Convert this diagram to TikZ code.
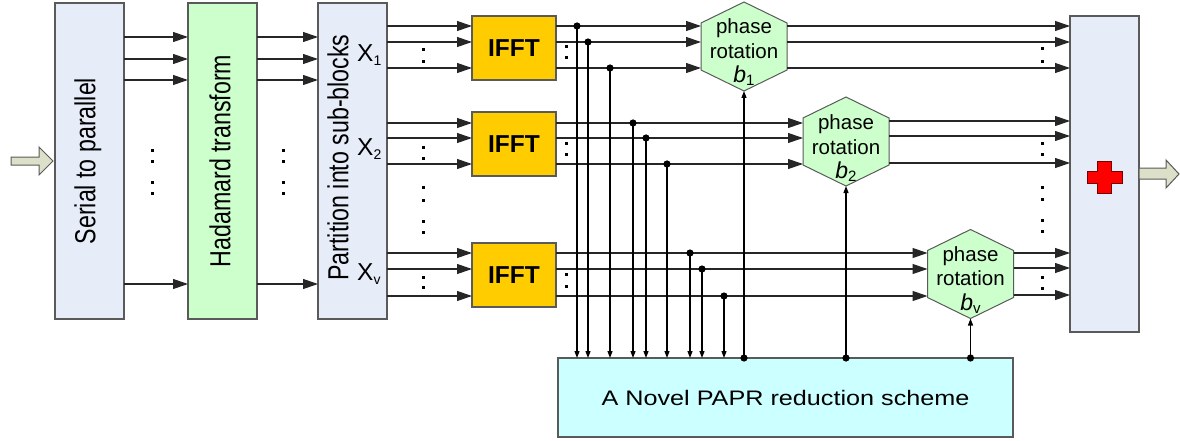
\documentclass[tikz,border=0pt]{standalone}
\usepackage{fontspec}
\usepackage{graphicx}
\setmainfont{Liberation Sans}
\usetikzlibrary{arrows.meta,calc}
\definecolor{boxblue}{RGB}{230,236,248}
\definecolor{lgreen}{RGB}{204,255,204}
\definecolor{ifftc}{RGB}{255,204,0}
\definecolor{paprc}{RGB}{204,255,255}
\definecolor{fatc}{RGB}{221,224,200}
\definecolor{edgec}{RGB}{90,90,90}
\definecolor{crossedge}{RGB}{120,0,0}
\newcommand\hexshape[1]{\draw[hexline] (#1.north west) -- ([yshift=21pt]#1.north) -- (#1.north east) -- (#1.south east) -- ([yshift=-21pt]#1.south) -- (#1.south west) -- cycle;}
\newcommand\dotsq[2]{\fill (#1,#2) +(-1.5pt,-1.5pt) rectangle +(1.5pt,1.5pt);}
\begin{document}
\begin{tikzpicture}[x=1pt,y=-1pt,
  blk/.style={draw=edgec, line width=1.2pt, inner sep=0pt, outer sep=0pt},
  tall/.style={blk, fill=boxblue, minimum width=69pt, minimum height=316pt},
  ifftbox/.style={blk, fill=ifftc, minimum width=84pt, minimum height=64pt, font=\fontsize{24.5}{28}\selectfont\bfseries},
  hexbox/.style={inner sep=0pt, outer sep=0pt, minimum width=86pt, minimum height=47pt},
  hexline/.style={draw=edgec, fill=lgreen, line width=1pt},
  hextext/.style={align=center, inner sep=0pt, font=\fontsize{20.5}{24.5}\selectfont},
  rottext/.style={rotate=90, inner sep=0pt, font=\fontsize{23.2}{26}\selectfont},
  sig/.style={line width=1.2pt, draw=black!85, -{Triangle[length=15pt,width=10pt]}},
  wire/.style={line width=1.2pt, draw=black!85},
  tap/.style={line width=1.2pt, -{Triangle[length=7pt,width=5pt]}},
  fat/.style={draw=edgec, fill=fatc, line width=1pt},
  xlab/.style={anchor=base west, inner sep=0pt, font=\fontsize{24.5}{28}\selectfont}
]
\useasboundingbox (0,0) rectangle (1180,441);

% row coordinates
\foreach \n/\y in {sa/37, sb/59, sc/80, sd/284,
  g1a/26, g1b/42, g1c/68, g2a/123, g2b/138, g2c/164, g3a/253, g3b/269, g3c/296,
  o2a/121, o2b/136, o2c/163, o3b/268, o3c/295}
  \coordinate (\n) at (0,\y);

% main blocks
\node[tall] (s2p) at (89.5,161) {};
\node[rottext] (s2pt) at (88,161) {\scalebox{1}[1.25]{Serial to parallel}};
\node[tall, fill=lgreen] (had) at (222.5,161) {};
\node[rottext] (hadt) at (220,161) {\scalebox{1}[1.25]{Hadamard transform}};
\node[tall] (part) at (352.5,161) {};
\node[rottext] (partt) at (338,157.5) {\scalebox{1}[1.25]{Partition into sub-blocks}};
\node[tall] (sum) at (1104.5,174) {};

\node[xlab] (x1) at (357,62) {X\raisebox{-4pt}{\fontsize{14}{14}\selectfont 1}};
\node[xlab] (x2) at (357,155) {X\raisebox{-4pt}{\fontsize{14}{14}\selectfont 2}};
\node[xlab] (xv) at (357,280) {X\raisebox{-4pt}{\fontsize{14}{14}\selectfont v}};

\node[ifftbox] (ifft1) at (514,48) {IFFT};
\node[ifftbox] (ifft2) at (514,144) {IFFT};
\node[ifftbox] (ifft3) at (514,275) {IFFT};

\node[blk, fill=paprc, minimum width=455pt, minimum height=79pt,
  font=\fontsize{21}{24}\selectfont] (papr) at (785.5,397.5)
  {\scalebox{1.2}[1]{A Novel PAPR reduction scheme}};

% hexagons
\node[hexbox] (b1) at (744,46.5) {};
\hexshape{b1}
\node[hextext] (b1t) at ([yshift=-6pt]b1.center) {phase\\rotation\\\fontsize{23}{24}\selectfont\textit{b}\raisebox{-3pt}{\fontsize{15}{15}\selectfont 1}};
\node[hexbox] (b2) at (846,141.5) {};
\hexshape{b2}
\node[hextext] (b2t) at ([yshift=-7pt]b2.center) {phase\\rotation\\\fontsize{23}{24}\selectfont\textit{b}\raisebox{-3pt}{\fontsize{15}{15}\selectfont 2}};
\node[hexbox] (bv) at (970.5,274) {};
\hexshape{bv}
\node[hextext] (bvt) at ([yshift=-6pt]bv.center) {phase\\rotation\\\fontsize{23}{24}\selectfont\textit{b}\raisebox{-3pt}{\fontsize{15}{15}\selectfont v}};

% fat arrows
\draw[fat] (11,157) -- (39,157) -- (39,147) -- (53,161) -- (39,175) -- (39,165) -- (11,165) -- cycle;
\draw[fat] (sum.east |- 0,168) -- (1166,168) -- (1166,160) -- (1179,174) -- (1166,188) -- (1166,179) -- (sum.east |- 0,179) -- cycle;

% red cross
\draw[fill=red, draw=crossedge, line width=0.8pt]
  (1097.5,161) -- (1111.5,161) -- (1111.5,171) -- (1122,171) -- (1122,183) -- (1111.5,183)
  -- (1111.5,193) -- (1097.5,193) -- (1097.5,183) -- (1087,183) -- (1087,171) -- (1097.5,171) -- cycle;

% S2P -> Hadamard -> Partition
\foreach \r in {sa,sb,sc,sd} {
  \draw[sig] (s2p.east |- \r) -- (had.west |- \r);
  \draw[sig] (had.east |- \r) -- (part.west |- \r);
}
% Partition -> IFFT
\foreach \r in {g1a,g1b,g1c} \draw[sig] (part.east |- \r) -- (ifft1.west |- \r);
\foreach \r in {g2a,g2b,g2c} \draw[sig] (part.east |- \r) -- (ifft2.west |- \r);
\foreach \r in {g3a,g3b,g3c} \draw[sig] (part.east |- \r) -- (ifft3.west |- \r);
% IFFT -> hexagons
\foreach \r in {g1a,g1b,g1c} \draw[sig] (ifft1.east |- \r) -- (b1.west |- \r);
\foreach \r in {g2a,g2b,g2c} \draw[sig] (ifft2.east |- \r) -- (b2.west |- \r);
\foreach \r in {g3a,g3b,g3c} \draw[sig] (ifft3.east |- \r) -- (bv.west |- \r);
% hexagons -> sum
\foreach \r in {g1a,g1b,g1c} \draw[sig] (b1.east |- \r) -- (sum.west |- \r);
\foreach \r in {o2a,o2b,o2c} \draw[sig] (b2.east |- \r) -- (sum.west |- \r);
\foreach \r in {g3a,o3b,o3c} \draw[sig] (bv.east |- \r) -- (sum.west |- \r);

% taps to PAPR
\foreach \n/\x/\r in {t1a/577/g1a, t1b/588/g1b, t1c/610/g1c,
  t2a/633/g2a, t2b/646/g2b, t2c/667/g2c,
  t3a/690/g3a, t3b/702/g3b, t3c/724/g3c} {
  \coordinate (\n) at (\x,0 |- \r);
  \draw[tap] (\n) -- (\n |- papr.north);
  \fill (\n) circle (3.6pt);
}
% PAPR -> phase rotations
\foreach \b in {b1,b2,bv} {
  \draw[tap] (papr.north -| \b.south) -- ([yshift=-21pt]\b.south);
  \fill (papr.north -| \b.south) circle (3.6pt);
}

% continuation dots
\foreach \y in {150,161,182,193} { \dotsq{152}{\y} \dotsq{283}{\y} }
\foreach \y in {50,62,147,158,187,200,221,232,277,287} { \dotsq{423}{\y} }
\foreach \y in {47,58,143,154,274,286} { \dotsq{566}{\y} }
\foreach \y in {49,62,143,154,187,199,220,231,277,288} { \dotsq{1042}{\y} }
\end{tikzpicture}
\end{document}
